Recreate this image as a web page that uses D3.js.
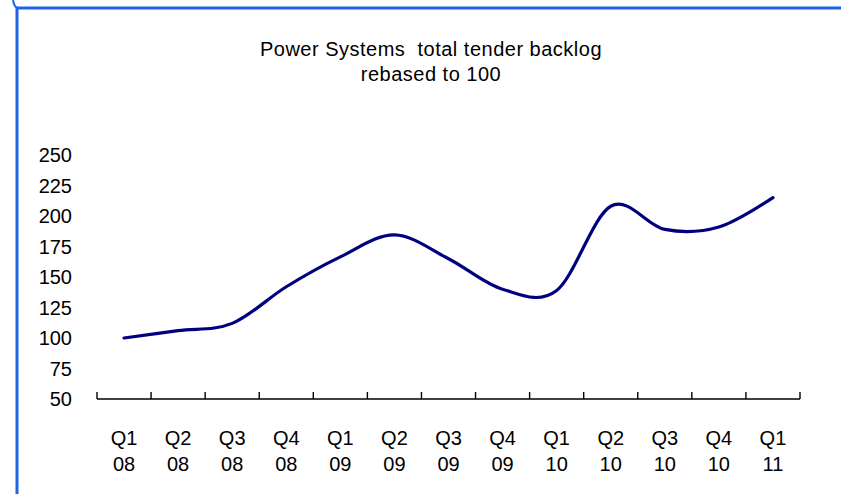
<!DOCTYPE html>
<html>
<head>
<meta charset="utf-8">
<script src="https://cdn.jsdelivr.net/npm/d3@7"></script>
<style>
  html, body { margin: 0; padding: 0; background: #fff; }
  svg { display: block; }
  text { font-family: "Liberation Sans", Arial, Helvetica, sans-serif; fill: #000; }
</style>
</head>
<body>
<svg id="chart" width="841" height="494"></svg>
<script>
const quarters = ["Q1","Q2","Q3","Q4","Q1","Q2","Q3","Q4","Q1","Q2","Q3","Q4","Q1"];
const years    = ["08","08","08","08","09","09","09","09","10","10","10","10","11"];
const categories = quarters.map((q, i) => q + " " + years[i]);
const backlog = [100, 106, 112, 142, 166.5, 184.5, 165, 140, 139, 208, 189, 191, 215];
const yTicks = [50, 75, 100, 125, 150, 175, 200, 225, 250];
const titleLines = ["Power Systems  total tender backlog", "rebased to 100"];

const svg = d3.select("#chart");

// frame
svg.append("path")
  .attr("d", "M17,494 L17,8 L841,8")
  .attr("fill", "none")
  .attr("stroke", "#1f63e6")
  .attr("stroke-width", 3);
svg.append("path")
  .attr("d", "M13,0 Q14,6 17,8")
  .attr("fill", "none")
  .attr("stroke", "#1f63e6")
  .attr("stroke-width", 2);

const x = d3.scaleBand().domain(categories).range([97, 800]).padding(0);
const y = d3.scaleLinear().domain([50, 250]).range([399, 155]);

// title
svg.selectAll("text.title")
  .data(titleLines).join("text")
  .attr("class", "title")
  .attr("x", 431).attr("y", (d, i) => 56 + i * 25)
  .attr("text-anchor", "middle")
  .style("font-size", "20px")
  .style("letter-spacing", "0.5px")
  .style("white-space", "pre")
  .text(d => d);

// y tick labels
svg.append("g").selectAll("text")
  .data(yTicks).join("text")
  .attr("x", 72)
  .attr("y", d => y(d))
  .attr("dy", "0.35em")
  .attr("text-anchor", "end")
  .style("font-size", "20px")
  .text(d => d);

// x axis line and ticks
const axisY = y(50);
const [r0, r1] = x.range();
const g = svg.append("g");
g.append("line")
  .attr("x1", r0).attr("x2", r1)
  .attr("y1", axisY).attr("y2", axisY)
  .attr("stroke", "#000").attr("stroke-width", 1.6);
const tickPos = categories.map(c => x(c)).concat([r1]);
g.selectAll("line.tick")
  .data(tickPos).join("line")
  .attr("class", "tick")
  .attr("x1", d => d).attr("x2", d => d)
  .attr("y1", axisY).attr("y2", axisY - 7)
  .attr("stroke", "#000").attr("stroke-width", 1.4);

// x labels
const lab = svg.append("g").selectAll("text")
  .data(categories).join("text")
  .attr("text-anchor", "middle")
  .style("font-size", "20px");
lab.append("tspan")
  .attr("x", d => x(d) + x.bandwidth() / 2)
  .attr("y", 445)
  .text((d, i) => quarters[i]);
lab.append("tspan")
  .attr("x", d => x(d) + x.bandwidth() / 2)
  .attr("y", 471)
  .text((d, i) => years[i]);

// line
const line = d3.line()
  .x((d, i) => x(categories[i]) + x.bandwidth() / 2)
  .y(d => y(d))
  .curve(d3.curveCatmullRom.alpha(0));
svg.append("path")
  .datum(backlog)
  .attr("d", line)
  .attr("fill", "none")
  .attr("stroke", "#000080")
  .attr("stroke-width", 3.2)
  .attr("stroke-linecap", "round");
</script>
</body>
</html>
